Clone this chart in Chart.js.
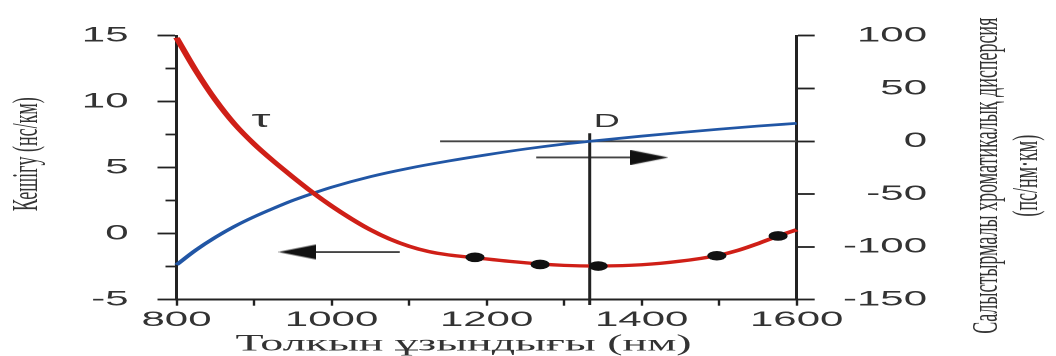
<!DOCTYPE html>
<html>
<head>
<meta charset="utf-8">
<script src="https://cdn.jsdelivr.net/npm/chart.js@4.4.1/dist/chart.umd.min.js"></script>
<style>
  html, body { margin: 0; padding: 0; background: #fff; overflow: hidden; }
  /* the figure is laid out at half width and widened horizontally */
  #frame { width: 528px; height: 356px; transform: scaleX(2); transform-origin: 0 0; }
</style>
</head>
<body>
<div id="frame"><canvas id="chart"></canvas></div>
<script>
// Group delay τ (ns/km) versus wavelength (nm)
const tauWavelength = [800, 825, 850, 875, 900, 925, 950, 975, 1000, 1025, 1050, 1075, 1100, 1125, 1150,
                       1185, 1230, 1270, 1300, 1340, 1375, 1400, 1425, 1450, 1475, 1500, 1525, 1550, 1575, 1600];
const tauDelay = [14.85, 12.35, 10.15, 8.3, 6.8, 5.5, 4.3, 3.15, 2.1, 1.15, 0.3, -0.4, -0.95, -1.35, -1.6,
                  -1.82, -2.1, -2.3, -2.4, -2.45, -2.42, -2.35, -2.24, -2.08, -1.88, -1.63, -1.25, -0.75, -0.2, 0.3];

// Chromatic dispersion D (ps/(nm·km)) versus wavelength (nm)
const dispWavelength = [800, 825, 850, 875, 900, 925, 950, 975, 1000, 1050, 1100, 1150,
                        1200, 1250, 1300, 1333, 1400, 1450, 1500, 1550, 1600];
const dispValues = [-117, -103, -91, -80.5, -71.5, -63.5, -56, -49.5, -43.5, -33.5, -25.5, -18.8,
                    -12.8, -7.3, -2.6, 0, 4.9, 8.3, 11.5, 14.4, 17.0];

// Measured delay points
const measWavelength = [1185, 1269, 1344, 1497, 1576];
const measDelay = [-1.79, -2.33, -2.45, -1.67, -0.17];

// Zero-dispersion wavelength and the D = 0 reference line
const zeroDispWavelength = 1333;
const zeroLineFrom = 1140;

// Arrows pointing to each curve's axis: [tail, head] wavelengths and level
const tauArrowX = [1088, 956];
const tauArrowLevel = -1.39;
const dispArrowX = [1264, 1410];
const dispArrowLevel = -15.3;

// Tick labels
const xTickLabels = [800, 1000, 1200, 1400, 1600];
const delayTickLabels = [15, 10, 5, 0, -5];
const dispTickLabels = [100, 50, 0, -50, -100, -150];

// Texts
const xTitle = 'Толкын ұзындығы (нм)';
const delayTitle = 'Кешігу (нс/км)';
const dispTitle = ['Салыстырмалы хроматикалық дисперсия', '(пс/нм·км)'];
const curveLabels = [
  { text: 'τ', x: 909, y: 8.6, scale: 'y', font: "24px 'Liberation Sans', Arial, sans-serif" },
  { text: 'D', x: 1355, y: 18.3, scale: 'y2', font: "18px 'Liberation Sans', Arial, sans-serif" }
];

const SANS = "'Liberation Sans', Arial, sans-serif";
const SERIF = "'Liberation Serif', 'DejaVu Serif', serif";
const INK = '#222';
const LABEL = '#333';

// solid triangular arrowhead pointing right
function makeArrowHead() {
  const c = document.createElement('canvas');
  c.width = 19; c.height = 15;
  const g = c.getContext('2d');
  g.fillStyle = '#111';
  g.beginPath();
  g.moveTo(0, 0); g.lineTo(19, 7.5); g.lineTo(0, 15);
  g.closePath(); g.fill();
  return c;
}
const arrowHead = makeArrowHead();

const pairs = (xs, ys) => xs.map((x, i) => ({ x, y: Array.isArray(ys) ? ys[i] : ys }));

// right-hand axis title (read bottom to top) and the curve letters
const textMarks = {
  id: 'textMarks',
  afterDatasetsDraw(chart) {
    const { ctx, chartArea, scales } = chart;
    ctx.save();
    ctx.fillStyle = LABEL;
    ctx.textAlign = 'center';
    ctx.textBaseline = 'middle';
    curveLabels.forEach(l => {
      ctx.font = l.font;
      ctx.fillText(l.text, scales.x.getPixelForValue(l.x), scales[l.scale].getPixelForValue(l.y));
    });
    const s = scales.y2;
    ctx.font = '18px ' + SERIF;
    ctx.translate(s.left + 95.6, (chartArea.top + chartArea.bottom) / 2 + 8);
    ctx.rotate(-Math.PI / 2);
    dispTitle.forEach((line, i) => ctx.fillText(line, 0, i * 20));
    ctx.restore();
  }
};

new Chart(document.getElementById('chart'), {
  type: 'line',
  data: {
    datasets: [
      {
        label: 'measured',
        data: pairs(measWavelength, measDelay),
        yAxisID: 'y',
        showLine: false,
        pointRadius: 4.8,
        pointBackgroundColor: '#111',
        pointBorderWidth: 0
      },
      {
        label: 'τ',
        data: pairs(tauWavelength, tauDelay),
        yAxisID: 'y',
        borderColor: '#cf1f17',
        borderWidth: 3.3,
        cubicInterpolationMode: 'monotone',
        pointRadius: 0,
        clip: false
      },
      {
        label: 'D',
        data: pairs(dispWavelength, dispValues),
        yAxisID: 'y2',
        borderColor: '#2156a5',
        borderWidth: 2.7,
        cubicInterpolationMode: 'monotone',
        pointRadius: 0,
        clip: false
      },
      {
        label: 'D = 0',
        data: pairs([zeroLineFrom, 1600], 0),
        yAxisID: 'y2',
        borderColor: '#444',
        borderWidth: 1.8,
        pointRadius: 0
      },
      {
        label: 'λ0',
        data: [{ x: zeroDispWavelength, y: 7.6 }, { x: zeroDispWavelength, y: -155 }],
        yAxisID: 'y2',
        borderColor: INK,
        borderWidth: 1.5,
        pointRadius: 0,
        clip: false
      },
      {
        label: 'τ axis',
        data: pairs(tauArrowX, tauArrowLevel),
        yAxisID: 'y',
        borderColor: '#444',
        borderWidth: 1.8,
        pointRadius: c => (c.dataIndex === 1 ? 5 : 0),
        pointStyle: c => (c.dataIndex === 1 ? arrowHead : 'circle'),
        pointRotation: 180
      },
      {
        label: 'D axis',
        data: pairs(dispArrowX, dispArrowLevel),
        yAxisID: 'y2',
        borderColor: '#444',
        borderWidth: 1.8,
        pointRadius: c => (c.dataIndex === 1 ? 5 : 0),
        pointStyle: c => (c.dataIndex === 1 ? arrowHead : 'circle')
      }
    ]
  },
  options: {
    responsive: true,
    maintainAspectRatio: false,
    devicePixelRatio: 2,
    animation: false,
    events: [],
    layout: { padding: { top: 35.7, left: 0, right: 64.5, bottom: 0 } },
    plugins: { legend: { display: false }, tooltip: { enabled: false } },
    scales: {
      x: {
        type: 'linear',
        min: 800, max: 1600,
        afterFit: s => { s.height = 56.3; },
        border: { display: true, color: INK, width: 2 },
        grid: { drawOnChartArea: false, drawTicks: true, tickLength: 6, tickWidth: 1.2, tickColor: INK },
        ticks: {
          stepSize: 100, autoSkip: false, maxRotation: 0, minRotation: 0, padding: 2,
          color: LABEL, font: { family: SANS, size: 21, lineHeight: 1.2 },
          callback: v => (xTickLabels.includes(v) ? String(v) : '')
        },
        title: {
          display: true, text: xTitle + '    ', color: LABEL,
          font: { family: SERIF, size: 23, lineHeight: 1 }, padding: 0
        }
      },
      y: {
        position: 'left',
        min: -5, max: 15,
        afterFit: s => { s.width = 88.25; },
        border: { display: true, color: INK, width: 1.5 },
        grid: {
          drawOnChartArea: false, drawTicks: true, tickLength: 9.5, tickWidth: 1.8, tickColor: INK,
          tickBorderDash: c => (delayTickLabels.includes(c.tick.value) ? [] : [0, 4, 20])
        },
        ticks: {
          stepSize: 2.5, autoSkip: false, padding: 14.5,
          color: LABEL, font: { family: SANS, size: 21 },
          callback: v => (delayTickLabels.includes(v) ? String(v) : '')
        },
        title: {
          display: true, text: '      ' + delayTitle, color: LABEL,
          font: { family: SERIF, size: 18, lineHeight: 1.2 }, padding: { top: 3, bottom: 0 }
        }
      },
      y2: {
        position: 'right',
        min: -150, max: 100,
        afterFit: s => { s.width = 65.15; },
        border: { display: true, color: INK, width: 1.5 },
        grid: { drawOnChartArea: false, drawTicks: true, tickLength: 9, tickWidth: 1.8, tickColor: INK },
        ticks: {
          stepSize: 50, autoSkip: false, padding: 14, crossAlign: 'far',
          color: LABEL, font: { family: SANS, size: 21 },
          callback: v => (dispTickLabels.includes(v) ? String(v) : '')
        },
        title: { display: false }
      }
    }
  },
  plugins: [textMarks]
});
</script>
</body>
</html>
